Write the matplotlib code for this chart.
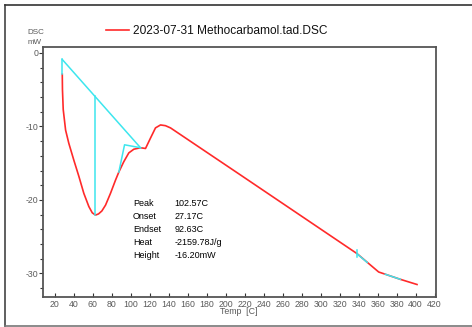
import matplotlib
matplotlib.use("Agg")
import matplotlib.pyplot as plt
from matplotlib.lines import Line2D
from matplotlib.ticker import MultipleLocator

plt.rcParams["font.family"] = ["Liberation Sans", "DejaVu Sans"]
plt.rcParams["axes.unicode_minus"] = False

# DSC trace (temperature in C, heat flow in mW)
temp = [27.8, 28.0, 28.8, 31.3, 34.7, 40.0, 45.3, 50.5, 55.8, 59.4, 62.8, 66.0,
        69.5, 73.4, 78.6, 83.9, 87.4, 92.6, 97.9, 103.2, 110.2, 115.5, 120.7, 126.0,
        131.3, 136.5, 141.8, 215.5, 338.3, 361.1, 368.0, 384.0, 401.5]
dsc = [-2.9, -5.0, -7.7, -10.5, -12.3, -14.6, -16.8, -19.1, -20.9, -21.75, -22.06, -21.9,
       -21.5, -20.7, -19.1, -17.3, -16.2, -14.8, -13.6, -13.1, -12.9, -13.0, -11.6, -10.2,
       -9.8, -9.9, -10.2, -16.6, -27.3, -29.8, -30.1, -30.8, -31.5]

# analysis overlay: baseline, peak drop line, onset tangent, tail markers
base_x = [27.8, 110.2]
base_y = [-0.9, -12.9]
start_x = [27.8, 27.8]
start_y = [-0.9, -2.9]
peak_x = [62.8, 62.8]
peak_y = [-5.9, -22.06]
tang_x = [87.4, 93.4, 110.2]
tang_y = [-16.2, -12.5, -12.9]
tail1_x = [339.0, 349.0]
tail1_y = [-27.4, -28.5]
tick_x = [338.6, 338.6]
tick_y = [-26.8, -27.8]
tail2_x = [368.0, 384.0]
tail2_y = [-30.1, -30.8]

labels = ["Peak", "Onset", "Endset", "Heat", "Height"]
values = ["102.57C", "27.17C", "92.63C", "-2159.78J/g", "-16.20mW"]
label_y = [-20.45, -22.3, -24.0, -25.8, -27.6]

red = "#ff2a2a"
cyan = "#3de6ee"
grey = "#5a5a5a"

fig = plt.figure(figsize=(4.72, 3.27), dpi=100)
W, H = 472.0, 327.0
ax = fig.add_axes([43 / W, 1 - 297 / H, 393 / W, 250 / H])

ax.plot(temp, dsc, color=red, lw=1.2, zorder=2)
for xs, ys in [(base_x, base_y), (start_x, start_y), (peak_x, peak_y), (tang_x, tang_y),
               (tail1_x, tail1_y), (tick_x, tick_y), (tail2_x, tail2_y)]:
    ax.plot(xs, ys, color=cyan, lw=1.1, zorder=3)

ax.set_xlim(7.5, 421.5)
ax.set_ylim(-33.2, 0.8)
ax.set_xticks(range(20, 421, 20))
ax.set_yticks([0, -10, -20, -30])
ax.yaxis.set_minor_locator(MultipleLocator(2))
ax.tick_params(axis="x", direction="in", length=3, width=0.8, color="#333333",
               labelsize=6.3, labelcolor=grey, pad=2)
ax.tick_params(axis="y", which="major", direction="out", length=3, width=0.8,
               color="#333333", labelsize=6.3, labelcolor=grey, pad=0.5)
ax.tick_params(axis="y", which="minor", direction="out", length=2, width=0.8, color="#333333")
for s in ax.spines.values():
    s.set_color("#555555")
    s.set_linewidth(1.3)

for lab, val, y in zip(labels, values, label_y):
    ax.text(102.1, y, lab, fontsize=6.5, va="center", ha="left", color="black")
    ax.text(146.0, y, val, fontsize=6.5, va="center", ha="left", color="black")

# legend
fig.add_artist(Line2D([106 / W, 129 / W], [1 - 30 / H, 1 - 30 / H], color=red, lw=1.2))
fig.text(133 / W, 1 - 31 / H, "2023-07-31 Methocarbamol.tad.DSC", fontsize=8.6,
         va="center", ha="left", color="#111111")

fig.text(36 / W, 1 - 33 / H, "DSC", fontsize=5.8, color=grey, ha="center", va="center")
fig.text(35 / W, 1 - 43 / H, "mW", fontsize=5.8, color=grey, ha="center", va="center")
fig.text(239 / W, 1 - 312 / H, "Temp  [C]", fontsize=6.3, color=grey, ha="center", va="center")

# outer frame
fig.add_artist(Line2D([5 / W, 5 / W], [1 - 5 / H, 1 - 326 / H], color="#444444", lw=1.2))
fig.add_artist(Line2D([5 / W, 1.0], [1 - 5 / H, 1 - 5 / H], color="#333333", lw=1.2))
fig.add_artist(Line2D([5 / W, 1.0], [1 - 326 / H, 1 - 326 / H], color="#777777", lw=1.2))

fig.savefig("out.png", dpi=100)
